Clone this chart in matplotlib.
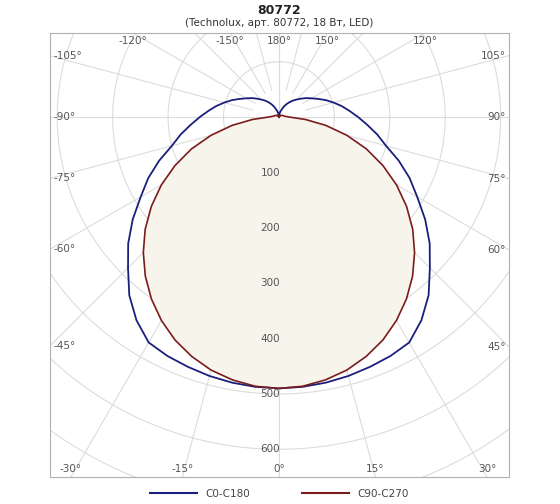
import numpy as np
import matplotlib.pyplot as plt
from matplotlib.lines import Line2D

# Luminous intensity, cd, vs angle from nadir (deg), symmetric, read every 5 deg
angles = list(range(0, 181, 5))
c0_c180 = [490, 489, 487, 484, 480, 476, 470, 448, 420, 385, 355, 322, 288, 260, 230, 200,
           180, 160, 143, 128, 115, 102, 90, 78, 68, 60, 52, 45, 39, 33, 27, 21, 15, 11, 7, 3, 0]
c90_c270 = [490, 488, 482, 473, 460, 444, 424, 401, 375, 346, 315, 281, 245, 207, 168, 127,
            86, 48, 20, 13, 10, 9, 8, 7, 6, 5, 5, 4, 4, 3, 3, 2, 2, 1, 1, 0, 0]

rings = [100, 200, 300, 400, 500, 600, 700, 800]
ray_angles = list(range(-180, 181, 15))
no_label = [-180, -165, 165, -135, 135]

XL, XR, YB, YT = -413, 415, -650, 152

fig = plt.figure(figsize=(5.6, 5.04), dpi=100)
ax = fig.add_axes([50 / 560, 27 / 504, 459 / 560, 444 / 504])
ax.set_xlim(XL, XR)
ax.set_ylim(YB, YT)
ax.set_aspect('auto')
ax.set_xticks([])
ax.set_yticks([])
for s in ax.spines.values():
    s.set_color('#b0b0b0')
    s.set_linewidth(0.8)

grid = '#dcdcdc'
t = np.linspace(0, 2 * np.pi, 400)
for r in rings:
    ax.plot(r * np.sin(t), r * np.cos(t), color=grid, lw=0.8, zorder=1)
for a in ray_angles:
    th = np.radians(a)
    r0 = 0 if a % 90 == 0 else 50
    ax.plot([r0 * np.sin(th), 1200 * np.sin(th)], [-r0 * np.cos(th), -1200 * np.cos(th)],
            color=grid, lw=0.8, zorder=1)


def curve(vals):
    th = np.radians(np.array(angles, float))
    v = np.array(vals, float)
    th = np.concatenate([-th[::-1], th[1:]])
    v = np.concatenate([v[::-1], v[1:]])
    return v * np.sin(th), -v * np.cos(th)


bx, by = curve(c0_c180)
rx, ry = curve(c90_c270)
ax.fill(rx, ry, color='#f7f4ec', zorder=2)
ax.plot(bx, by, color='#1b1f7c', lw=1.3, zorder=4)
ax.plot(rx, ry, color='#7b1c1c', lw=1.2, zorder=4)

# angle labels at the box edges
lab = dict(fontsize=7.5, color='#555555', zorder=5)
for a in ray_angles:
    if a in no_label:
        continue
    th = np.radians(a)
    dx, dy = np.sin(th), -np.cos(th)
    txt = '%d°' % a
    hits = []
    if dx > 1e-9:
        hits.append((XR / dx, 'r'))
    if dx < -1e-9:
        hits.append((XL / dx, 'l'))
    if dy > 1e-9:
        hits.append((YT / dy, 't'))
    if dy < -1e-9:
        hits.append((YB / dy, 'b'))
    k, side = min(hits)
    x, y = k * dx, k * dy
    if side == 'b':
        ax.text(x, YB + 14, txt, ha='center', va='center', **lab)
    elif side == 't':
        ax.text(x, YT - 14, txt, ha='center', va='center', **lab)
    elif side == 'l':
        ax.text(XL + 6, y, txt, ha='left', va='center', **lab)
    else:
        ax.text(XR - 6, y, txt, ha='right', va='center', **lab)

for r in rings[:6]:
    ax.text(2, -r, str(r), ha='right', va='center', fontsize=7.5, color='#555555', zorder=5)

fig.text(279 / 560, 1 - 10 / 504, '80772', ha='center', va='center', fontsize=9, weight='bold', color='#222222')
fig.text(279 / 560, 1 - 23 / 504, '(Technolux, арт. 80772, 18 Вт, LED)', ha='center', va='center',
         fontsize=7.5, color='#333333')

handles = [Line2D([], [], color='#1b1f7c', lw=1.5), Line2D([], [], color='#7b1c1c', lw=1.5)]
fig.legend(handles, ['C0-C180', 'C90-C270'], loc='center', bbox_to_anchor=(279 / 560, 10 / 504),
           ncol=2, frameon=False, fontsize=7.5, handlelength=4.5, columnspacing=5, labelcolor='#444444')

fig.savefig('out.png', dpi=100, facecolor='white')
